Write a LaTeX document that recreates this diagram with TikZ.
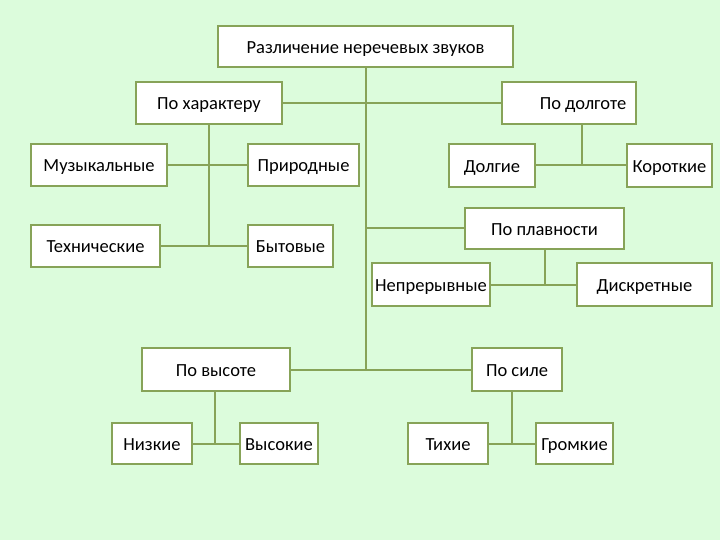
\documentclass[tikz,border=0pt]{standalone}
\usepackage{fontspec}
\setmainfont{Carlito}
\definecolor{pagegreen}{RGB}{220,252,220}
\definecolor{linegreen}{RGB}{135,163,88}
\tikzset{
  box/.style={draw=linegreen, line width=1.8pt, fill=white, inner sep=2pt,
    text height=13.5pt, text depth=0pt,
    font=\fontsize{18.5}{20}\selectfont},
  link/.style={draw=linegreen, line width=2pt}
}
\begin{document}
\begin{tikzpicture}[x=1pt, y=-1pt]
        \fill[pagegreen] (0,0) rectangle (720,540);
        \useasboundingbox (0,0) rectangle (720,540);
        % upper part
        \node[box, minimum width=295pt, minimum height=41pt] (root) at (365.5, 46.5) {Различение неречевых звуков};
        \node[box, minimum width=146pt, minimum height=42pt] (char) at (209, 103) {По характеру};
        \node[box, minimum width=134pt, minimum height=42pt] (dur) at (569, 103) {\hspace*{28pt}По долготе};
        \node[box, minimum width=136pt, minimum height=42pt] (mus) at (99, 165) {Музыкальные};
        \node[box, minimum width=111pt, minimum height=42pt] (nat) at (303.5, 165) {Природные};
        \node[box, minimum width=129pt, minimum height=42pt] (tech) at (95.5, 246) {Технические};
        \node[box, minimum width=85pt, minimum height=42pt] (home) at (290.5, 246) {Бытовые};
        \node[box, minimum width=86pt, minimum height=43pt] (long) at (492, 165.5) {Долгие};
        \node[box, minimum width=85pt, minimum height=43pt] (short) at (669.5, 165.5) {Короткие};
        \node[box, minimum width=159pt, minimum height=41pt] (smooth) at (544.5, 228.5) {По плавности};
        \node[box, minimum width=118pt, minimum height=43pt] (cont) at (431, 284.5) {Непрерывные};
        \node[box, minimum width=135pt, minimum height=43pt] (disc) at (644.5, 284.5) {Дискретные};
        % lower part
        \node[box, minimum width=148pt, minimum height=43pt] (pitch) at (216, 369.5) {По высоте};
        \node[box, minimum width=90pt, minimum height=43pt] (force) at (517, 369.5) {По силе};
        \node[box, minimum width=80pt, minimum height=41pt] (low) at (152, 443.5) {Низкие};
        \node[box, minimum width=78pt, minimum height=41pt] (high) at (279, 443.5) {Высокие};
        \node[box, minimum width=80pt, minimum height=41pt] (quiet) at (448, 443.5) {Тихие};
        \node[box, minimum width=77pt, minimum height=41pt] (loud) at (574.5, 443.5) {Громкие};
        % connectors
        \coordinate (trunkend) at (root.south |- pitch.east);
        \draw[link] (root.south) -- (trunkend);
        \draw[link] (char.east) -- (dur.west);
        \draw[link] (root.south |- smooth.west) -- (smooth.west);
        \draw[link] (pitch.east) -- (force.west);
        \draw[link] (char.south) -- (char.south |- tech.east);
        \draw[link] (mus.east) -- (nat.west);
        \draw[link] (tech.east) -- (home.west);
        \draw[link] ([xshift=13pt]dur.south) -- ([xshift=13pt]dur.south |- long.east);
        \draw[link] (long.east) -- (short.west);
        \draw[link] (smooth.south) -- (smooth.south |- cont.east);
        \draw[link] (cont.east) -- (disc.west);
        \draw[link] ([xshift=-1pt]pitch.south) -- ([xshift=-1pt]pitch.south |- low.east);
        \draw[link] (low.east) -- (high.west);
        \draw[link] ([xshift=-5pt]force.south) -- ([xshift=-5pt]force.south |- quiet.east);
        \draw[link] (quiet.east) -- (loud.west);
    \end{tikzpicture}
\end{document}
